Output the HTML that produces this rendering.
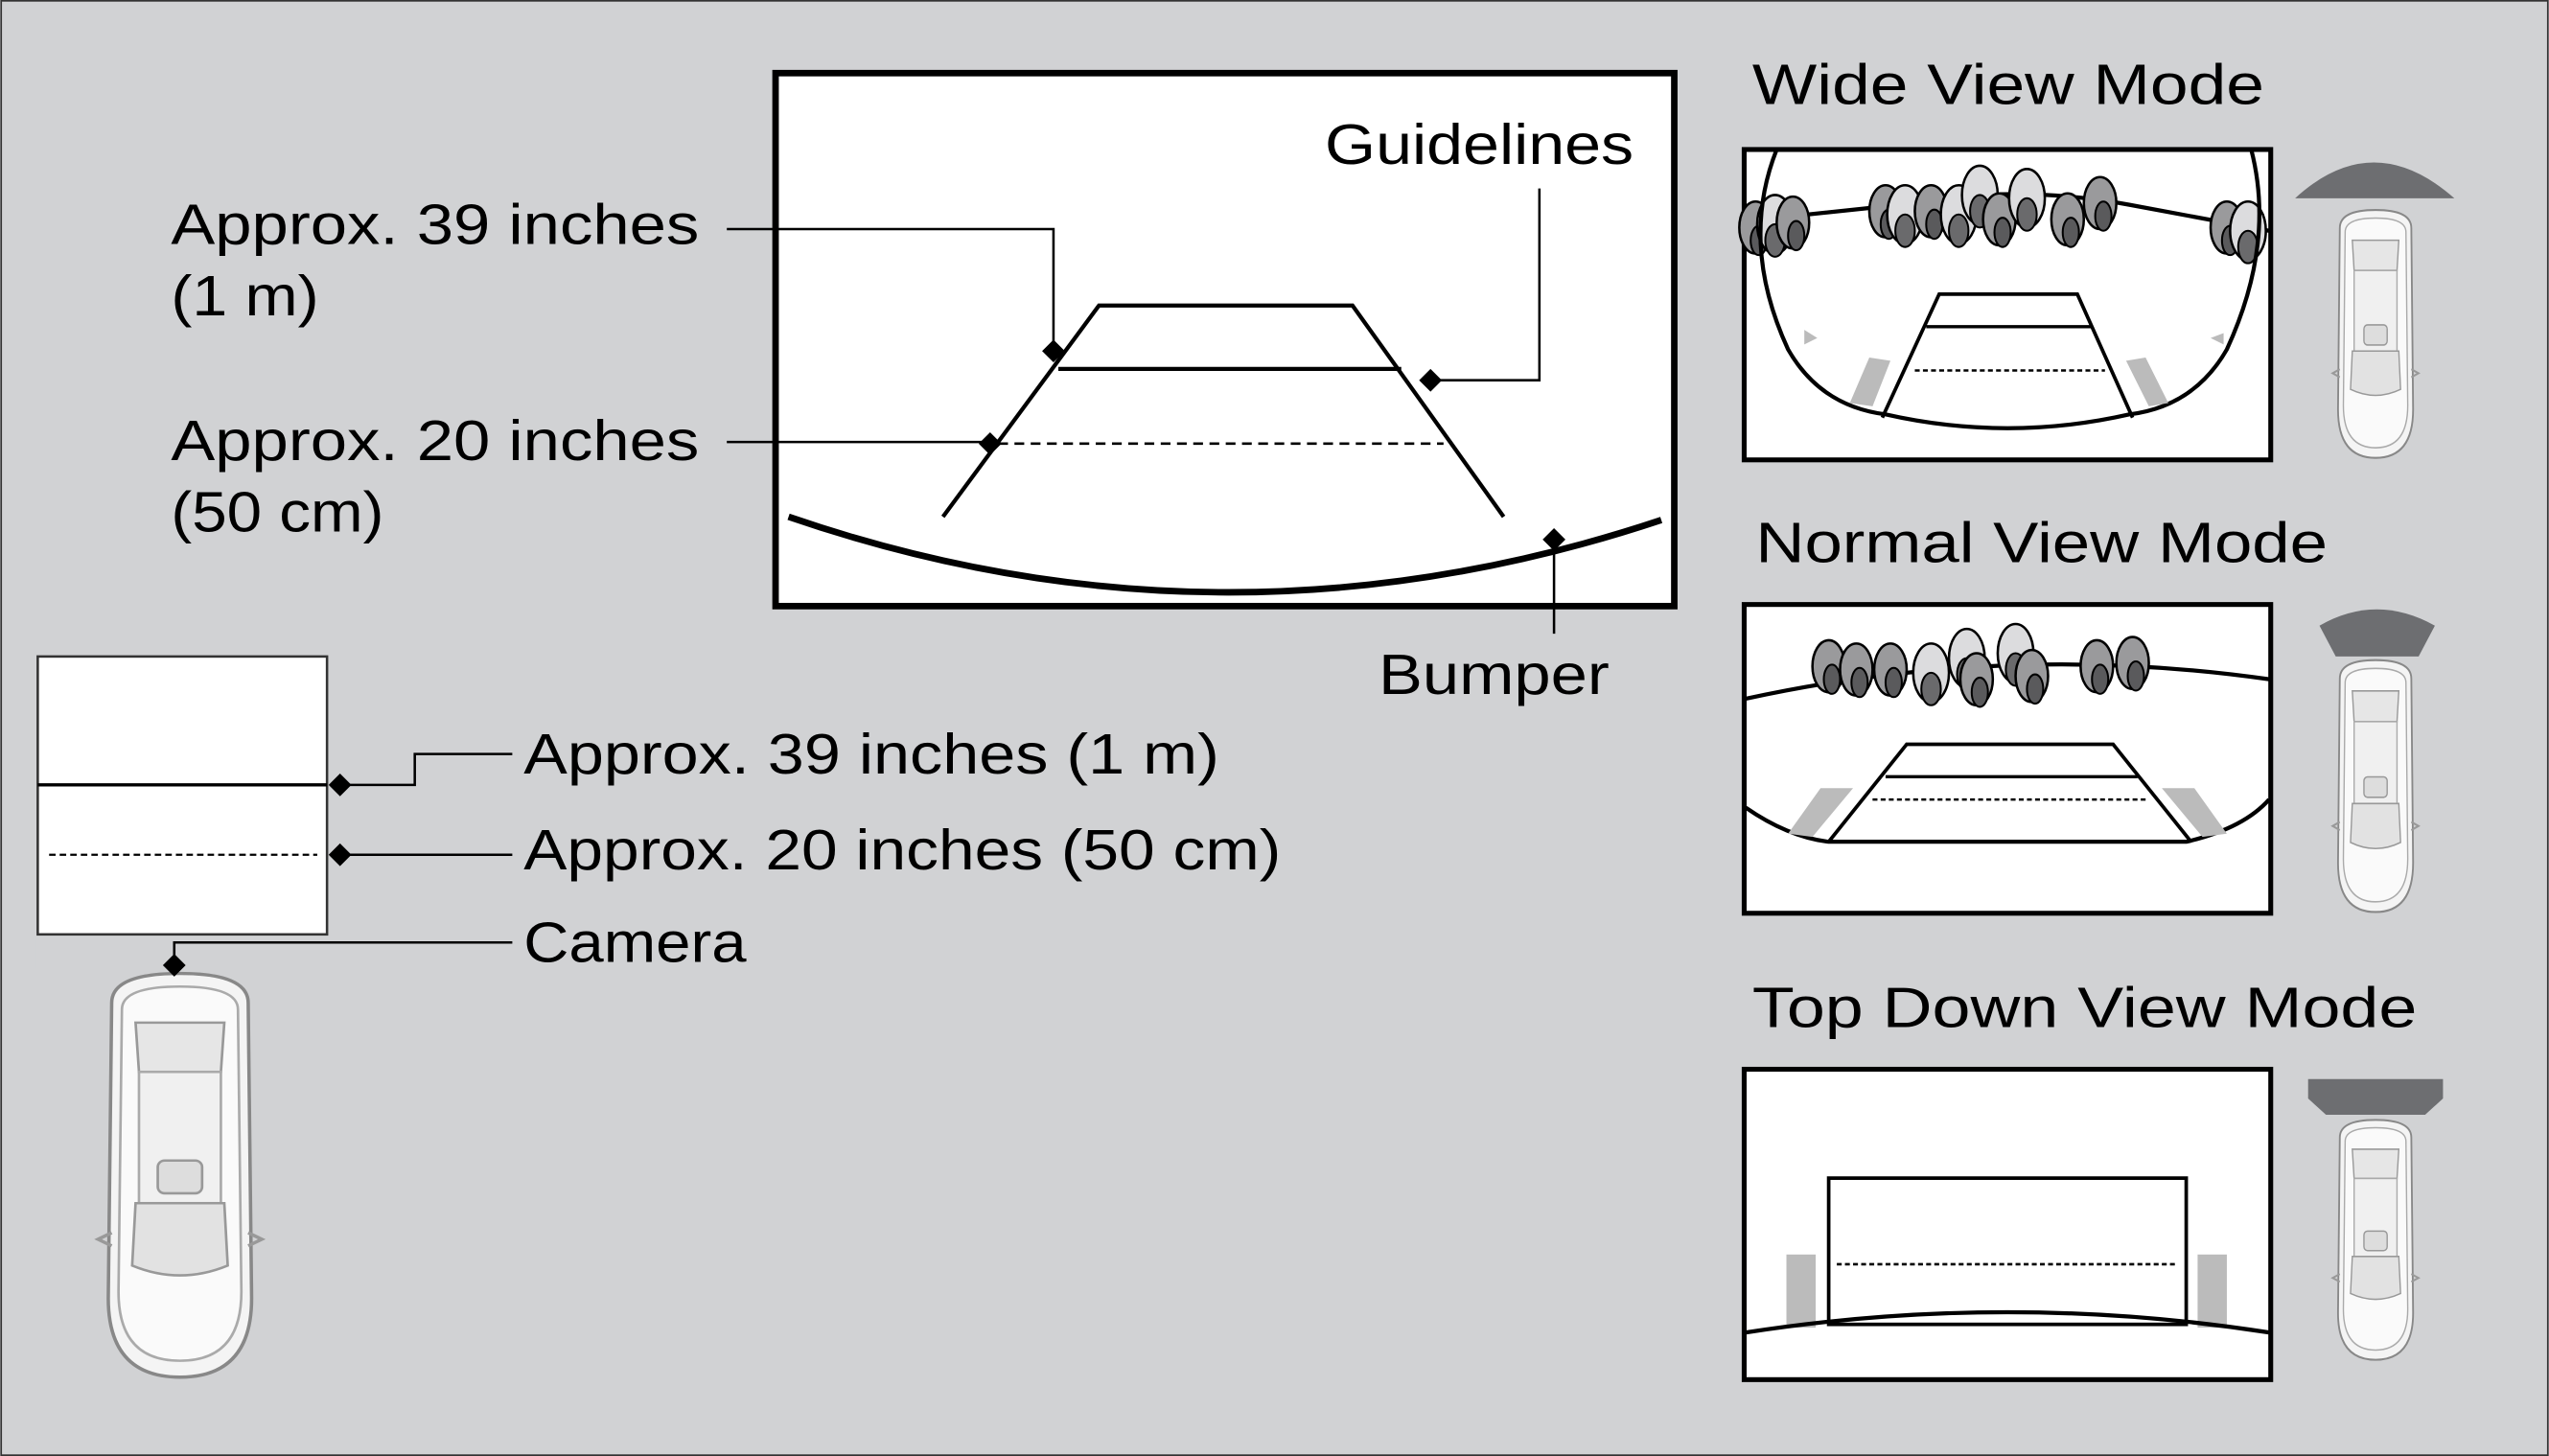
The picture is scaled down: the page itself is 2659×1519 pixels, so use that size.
<!DOCTYPE html>
<html><head><meta charset="utf-8"><style>
html,body{margin:0;padding:0;background:#d1d2d4;}
svg{display:block;}
text{font-family:"Liberation Sans",sans-serif;fill:#000;}
</style></head><body>
<svg width="2659" height="1519" viewBox="0 0 1568 896" xmlns="http://www.w3.org/2000/svg">
<defs>
<g id="car">
  <path d="M10,20 Q10,2 50,2 Q90,2 90,20 L92,200 Q92,248 50,248 Q8,248 8,200 Z" fill="#f4f4f4" stroke="#888" stroke-width="2"/>
  <path d="M16,24 Q16,10 50,10 Q84,10 84,24 L86,196 Q86,238 50,238 Q14,238 14,196 Z" fill="#fafafa" stroke="#aaa" stroke-width="1.5"/>
  <path d="M24,32 L76,32 L74,62 L26,62 Z" fill="#e6e6e6" stroke="#999" stroke-width="1.5"/>
  <rect x="26" y="62" width="48" height="80" fill="#f0f0f0" stroke="#aaa" stroke-width="1.5"/>
  <rect x="37" y="116" width="26" height="20" rx="4" fill="#ddd" stroke="#999" stroke-width="1.5"/>
  <path d="M24,142 L76,142 L78,180 Q50,192 22,180 Z" fill="#e2e2e2" stroke="#999" stroke-width="1.5"/>
  <path d="M10,160 L2,164 L10,168" fill="none" stroke="#999" stroke-width="2"/>
  <path d="M90,160 L98,164 L90,168" fill="none" stroke="#999" stroke-width="2"/>
</g>
<g id="tree">
  <ellipse cx="0" cy="0" rx="10" ry="16" fill="#9a9a9c" stroke="#000" stroke-width="1.5"/>
  <ellipse cx="2" cy="8" rx="5" ry="9" fill="#5a5a5c" stroke="#000" stroke-width="1.2"/>
</g>
<g id="treeL">
  <ellipse cx="0" cy="0" rx="11" ry="18" fill="#dcdcde" stroke="#000" stroke-width="1.5"/>
  <ellipse cx="0" cy="10" rx="6" ry="10" fill="#6a6a6c" stroke="#000" stroke-width="1.2"/>
</g>
</defs>
<rect x="0.5" y="0.5" width="1567" height="895" fill="#d1d2d4" stroke="#333" stroke-width="1"/>

<!-- main screen -->
<rect x="477" y="45" width="553" height="328" fill="#fff" stroke="#000" stroke-width="4"/>
<polyline points="580,318 676,188 832,188 925,318" fill="none" stroke="#000" stroke-width="2.5"/>
<line x1="651" y1="227" x2="862" y2="227" stroke="#000" stroke-width="2.5"/>
<line x1="614" y1="273" x2="888" y2="273" stroke="#000" stroke-width="1.5" stroke-dasharray="6,4"/>
<path d="M485,318 Q752,410 1022,320" fill="none" stroke="#000" stroke-width="4"/>
<g stroke="#000" stroke-width="1.5" fill="none">
  <polyline points="447,141 648,141 648,216"/>
  <line x1="447" y1="272" x2="609" y2="272"/>
  <polyline points="947,116 947,234 880,234"/>
  <line x1="956" y1="332" x2="956" y2="390"/>
</g>
<g fill="#000">
  <path d="M648,209 l7,7 l-7,7 l-7,-7z"/>
  <path d="M609,266 l7,7 l-7,7 l-7,-7z"/>
  <path d="M880,227 l7,7 l-7,7 l-7,-7z"/>
  <path d="M956,325 l7,7 l-7,7 l-7,-7z"/>
</g>
<g font-size="35" lengthAdjust="spacingAndGlyphs">
<text x="815" y="101" textLength="190" lengthAdjust="spacingAndGlyphs">Guidelines</text>
<text x="105" y="150" textLength="325" lengthAdjust="spacingAndGlyphs">Approx. 39 inches</text>
<text x="105" y="194" textLength="91" lengthAdjust="spacingAndGlyphs">(1 m)</text>
<text x="105" y="283" textLength="325" lengthAdjust="spacingAndGlyphs">Approx. 20 inches</text>
<text x="105" y="327" textLength="131" lengthAdjust="spacingAndGlyphs">(50 cm)</text>
<text x="848" y="427" textLength="142" lengthAdjust="spacingAndGlyphs">Bumper</text>
</g>

<!-- left bottom -->
<rect x="23" y="404" width="178" height="171" fill="#fff" stroke="#333" stroke-width="1.5"/>
<rect x="22" y="576" width="181" height="20" fill="#d1d2d4"/>
<line x1="23" y1="483" x2="201" y2="483" stroke="#000" stroke-width="2"/>
<line x1="30" y1="526" x2="195" y2="526" stroke="#000" stroke-width="1.3" stroke-dasharray="4,2.5"/>
<g stroke="#000" stroke-width="1.5" fill="none">
  <polyline points="209,483 255,483 255,464 315,464"/>
  <line x1="209" y1="526" x2="315" y2="526"/>
  <polyline points="107,594 107,580 315,580"/>
</g>
<use href="#car" transform="translate(58,597) scale(1.05,1.01)"/>
<g fill="#000">
  <path d="M209,476 l7,7 l-7,7 l-7,-7z"/>
  <path d="M209,519 l7,7 l-7,7 l-7,-7z"/>
  <path d="M107,587 l7,7 l-7,7 l-7,-7z"/>
</g>
<text x="322" y="476" font-size="35" textLength="428" lengthAdjust="spacingAndGlyphs">Approx. 39 inches (1 m)</text>
<text x="322" y="535" font-size="35" textLength="466" lengthAdjust="spacingAndGlyphs">Approx. 20 inches (50 cm)</text>
<text x="322" y="592" font-size="35" textLength="137" lengthAdjust="spacingAndGlyphs">Camera</text>

<!-- right titles -->
<text x="1078" y="64" font-size="35" textLength="315" lengthAdjust="spacingAndGlyphs">Wide View Mode</text>
<text x="1080" y="346" font-size="35" textLength="352" lengthAdjust="spacingAndGlyphs">Normal View Mode</text>
<text x="1078" y="632" font-size="35" textLength="409" lengthAdjust="spacingAndGlyphs">Top Down View Mode</text>

<!-- wide -->
<rect x="1073" y="92" width="324" height="191" fill="#fff" stroke="#000" stroke-width="3"/>
<path d="M1074,136 L1150,128 Q1235,112 1310,126 L1396,142" fill="none" stroke="#000" stroke-width="2.5"/>
<use href="#tree" x="1080" y="140"/><use href="#treeL" x="1092" y="138"/><use href="#tree" x="1103" y="137"/>
<use href="#tree" x="1160" y="130"/><use href="#treeL" x="1172" y="132"/><use href="#tree" x="1188" y="130"/>
<use href="#treeL" x="1205" y="132"/><use href="#treeL" x="1218" y="120"/><use href="#tree" x="1230" y="135"/>
<use href="#treeL" x="1247" y="122"/><use href="#tree" x="1272" y="135"/><use href="#tree" x="1292" y="125"/>
<use href="#tree" x="1370" y="140"/><use href="#treeL" x="1383" y="142"/>
<path d="M1093,92 Q1070,150 1100,215 Q1120,250 1160,255 Q1235,272 1310,255 Q1350,250 1370,215 Q1400,150 1385,92" fill="none" stroke="#000" stroke-width="2.5"/>
<path d="M1150,220 L1163,222 L1152,250 L1138,248Z M1308,222 L1320,220 L1334,248 L1322,250Z" fill="#bbb"/>
<path d="M1110,212 L1118,208 L1110,203Z M1360,208 L1368,212 L1368,205Z" fill="#bbb"/>
<polyline points="1158,257 1193,181 1278,181 1312,257" fill="none" stroke="#000" stroke-width="2.2"/>
<line x1="1185" y1="201" x2="1287" y2="201" stroke="#000" stroke-width="2"/>
<line x1="1178" y1="228" x2="1295" y2="228" stroke="#000" stroke-width="1.5" stroke-dasharray="3,2"/>
<path d="M1412,122 Q1460,78 1510,122 Z" fill="#6d6e71"/>
<use href="#car" transform="translate(1434,128) scale(0.55,0.62)"/>

<!-- normal -->
<rect x="1073" y="372" width="324" height="190" fill="#fff" stroke="#000" stroke-width="3"/>
<path d="M1074,430 Q1235,395 1396,418" fill="none" stroke="#000" stroke-width="2.5"/>
<use href="#tree" x="1125" y="410"/><use href="#tree" x="1142" y="412"/><use href="#tree" x="1163" y="412"/>
<use href="#treeL" x="1188" y="414"/><use href="#treeL" x="1210" y="405"/><use href="#tree" x="1216" y="418"/>
<use href="#treeL" x="1240" y="402"/><use href="#tree" x="1250" y="416"/><use href="#tree" x="1290" y="410"/><use href="#tree" x="1312" y="408"/>
<path d="M1074,497 Q1100,515 1125,518 L1345,518 Q1380,510 1396,492" fill="none" stroke="#000" stroke-width="2.5"/>
<path d="M1120,485 L1140,485 L1115,515 L1100,513Z M1330,485 L1350,485 L1370,513 L1355,515Z" fill="#bbb"/>
<polyline points="1125,518 1173,458 1300,458 1348,518" fill="none" stroke="#000" stroke-width="2.2"/>
<line x1="1160" y1="478" x2="1315" y2="478" stroke="#000" stroke-width="2"/>
<line x1="1152" y1="492" x2="1322" y2="492" stroke="#000" stroke-width="1.5" stroke-dasharray="3,2"/>
<path d="M1427,385 Q1462,365 1498,385 L1488,404 L1437,404Z" fill="#6d6e71"/>
<use href="#car" transform="translate(1434,405) scale(0.55,0.63)"/>

<!-- top down -->
<rect x="1073" y="658" width="324" height="191" fill="#fff" stroke="#000" stroke-width="3"/>
<rect x="1099" y="772" width="18" height="45" fill="#bbb"/>
<rect x="1352" y="772" width="18" height="45" fill="#bbb"/>
<rect x="1125" y="725" width="220" height="90" fill="#fff" stroke="#000" stroke-width="2.2"/>
<line x1="1130" y1="778" x2="1340" y2="778" stroke="#000" stroke-width="1.5" stroke-dasharray="3,2"/>
<path d="M1074,820 Q1235,795 1396,820" fill="none" stroke="#000" stroke-width="2.5"/>
<path d="M1420,664 L1503,664 L1503,676 L1492,686 L1431,686 L1420,676Z" fill="#6d6e71"/>
<use href="#car" transform="translate(1434,688) scale(0.55,0.6)"/>
</svg>
</body></html>
